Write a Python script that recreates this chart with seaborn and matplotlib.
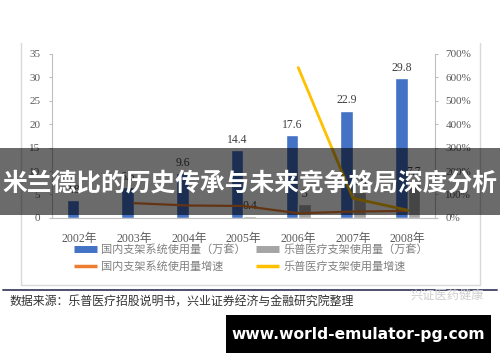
import numpy as np
import pandas as pd
import matplotlib
matplotlib.use("Agg")
import matplotlib.pyplot as plt
from matplotlib.lines import Line2D
from matplotlib.patches import Rectangle
import seaborn as sns

# ---- data ----
years = ['2002年', '2003年', '2004年', '2005年', '2006年', '2007年', '2008年']
domestic = [3.8, 6.6, 9.6, 14.4, 17.6, 22.9, 29.8]
lepu = [0.0, 0.0, 0.0, 0.4, 3.0, 5.6, 7.7]
domestic_growth = [np.nan, 0.63, 0.53, 0.51, 0.20, 0.27, 0.30]
lepu_growth = [np.nan, np.nan, np.nan, np.nan, 6.42, 0.84, 0.33]
series_names = ['国内支架系统使用量（万套）', '乐普医疗支架使用量（万套）',
                '国内支架系统使用量增速', '乐普医疗支架使用量增速']
left_ticks = [0, 5, 10, 15, 20, 25, 30, 35]
right_ticks = [0, 1, 2, 3, 4, 5, 6, 7]
title_text = '米兰德比的历史传承与未来竞争格局深度分析'
source_text = '数据来源：乐普医疗招股说明书，兴业证券经济与金融研究院整理'
watermark_text = '兴证医药健康'
site_text = 'www.world-emulator-pg.com'

BLUE = '#4472C4'
GRAY = '#A5A5A5'
ORANGE = '#ED7D31'
YELLOW = '#FFC000'
TICK_C = '#595959'
SERIF = ['Liberation Serif', 'Noto Sans CJK SC']
CJK = ['Noto Sans CJK SC', 'DejaVu Sans']

sns.set_theme(style='white')
plt.rcParams['font.family'] = CJK

fig = plt.figure(figsize=(5.0, 3.62), dpi=100)
ax = fig.add_axes([0.104, 0.398, 0.766, 0.453])

df = pd.DataFrame({
    'year': years * 2,
    'value': domestic + lepu,
    'series': [series_names[0]] * len(years) + [series_names[1]] * len(years),
})
sns.barplot(data=df, x='year', y='value', hue='series', order=years,
            hue_order=series_names[:2], palette=[BLUE, GRAY], width=0.46,
            gap=0, saturation=1, legend=False, ax=ax, errorbar=None)

for cont, vals in zip(ax.containers, [domestic, lepu]):
    labels = [f'{v:g}' if v > 0 else '' for v in vals]
    ax.bar_label(cont, labels=labels, padding=3, fontsize=8.5,
                 color='#404040', family=SERIF)

ax.set_xlim(-0.5, len(years) - 0.5)
ax.set_ylim(0, 35)
ax.set_yticks(left_ticks)
ax.set_xlabel('')
ax.set_ylabel('')
for s in ['top', 'right']:
    ax.spines[s].set_visible(False)
for s in ['left', 'bottom']:
    ax.spines[s].set_color('#BFBFBF')
    ax.spines[s].set_linewidth(0.8)
ax.tick_params(axis='y', which='both', left=True, length=2.5, width=0.8,
               color='#BFBFBF', pad=6, labelsize=8, labelcolor=TICK_C)
ax.tick_params(axis='x', bottom=False, pad=5, labelsize=8.5, labelcolor=TICK_C)
for lab in ax.get_xticklabels() + ax.get_yticklabels():
    lab.set_family(SERIF)

ax2 = ax.twinx()
pos = np.arange(len(years))
sns.lineplot(x=pos, y=domestic_growth, color=ORANGE, linewidth=1.6, ax=ax2)
sns.lineplot(x=pos, y=lepu_growth, color=YELLOW, linewidth=2.0, ax=ax2)
ax2.set_ylim(0, 7)
ax2.set_yticks(right_ticks)
ax2.set_yticklabels([f'{int(v * 100)}%' for v in right_ticks])
for s in ['top', 'left', 'bottom']:
    ax2.spines[s].set_visible(False)
ax2.spines['right'].set_color('#BFBFBF')
ax2.spines['right'].set_linewidth(0.8)
ax2.tick_params(axis='y', right=True, length=2.5, width=0.8, color='#BFBFBF',
                pad=5, labelsize=8, labelcolor=TICK_C)
for lab in ax2.get_yticklabels():
    lab.set_family(SERIF)
ax2.set_xlim(-0.5, len(years) - 0.5)

# legend
handles = [
    Line2D([], [], color=BLUE, lw=5, solid_capstyle='butt'),
    Line2D([], [], color=ORANGE, lw=2.5, solid_capstyle='butt'),
    Line2D([], [], color=GRAY, lw=5, solid_capstyle='butt'),
    Line2D([], [], color=YELLOW, lw=2.5, solid_capstyle='butt'),
]
labels = [series_names[0], series_names[2], series_names[1], series_names[3]]
leg = fig.legend(handles, labels, ncol=2, loc='upper left',
                 bbox_to_anchor=(0.148, 1 - 244 / 362), frameon=False,
                 fontsize=8, handlelength=2.1, handletextpad=0.35,
                 columnspacing=0.9, labelspacing=0.55, borderpad=0,
                 borderaxespad=0)
for t in leg.get_texts():
    t.set_color('#808080')

# frame around chart
fc = '#D9D9D9'
fig.add_artist(Line2D([21 / 500, 21 / 500], [1 - 43 / 362, 1 - 285 / 362],
                      color=fc, lw=1, transform=fig.transFigure))
fig.add_artist(Line2D([480 / 500, 480 / 500], [1 - 43 / 362, 1 - 285 / 362],
                      color=fc, lw=1, transform=fig.transFigure))
fig.add_artist(Line2D([21 / 500, 480 / 500], [1 - 285 / 362, 1 - 285 / 362],
                      color=fc, lw=1, transform=fig.transFigure))
# dark separator
fig.add_artist(Line2D([3 / 500, 497 / 500], [1 - 290 / 362, 1 - 290 / 362],
                      color='#4E4E6E', lw=1.4, transform=fig.transFigure))

fig.text(10 / 500, 1 - 302 / 362, source_text, fontsize=8.6, color='#333333',
         va='center', ha='left', family=CJK, weight='medium')
fig.text(410 / 500, 1 - 295 / 362, watermark_text, fontsize=8.8,
         color='#CFCFCF', va='center', ha='left', family=CJK)

# overlay band
fig.add_artist(Rectangle((0, 1 - 215 / 362), 1, 67 / 362,
                         transform=fig.transFigure, facecolor='black',
                         alpha=0.58, edgecolor='none', zorder=10))
fig.text(0.5, 1 - 184 / 362, title_text, fontsize=17.8, color='white',
         weight='bold', ha='center', va='center', family=CJK, zorder=11)

# site box
fig.add_artist(Rectangle((226 / 500, 1 - 353 / 362), 265 / 500, 38 / 362,
                         transform=fig.transFigure, facecolor='black',
                         edgecolor='none', zorder=10))
fig.text(358 / 500, 1 - 334 / 362, site_text, fontsize=11.2, color='white',
         weight='bold', ha='center', va='center', family=['DejaVu Sans'],
         zorder=11)

fig.savefig('out.png', dpi=100)
